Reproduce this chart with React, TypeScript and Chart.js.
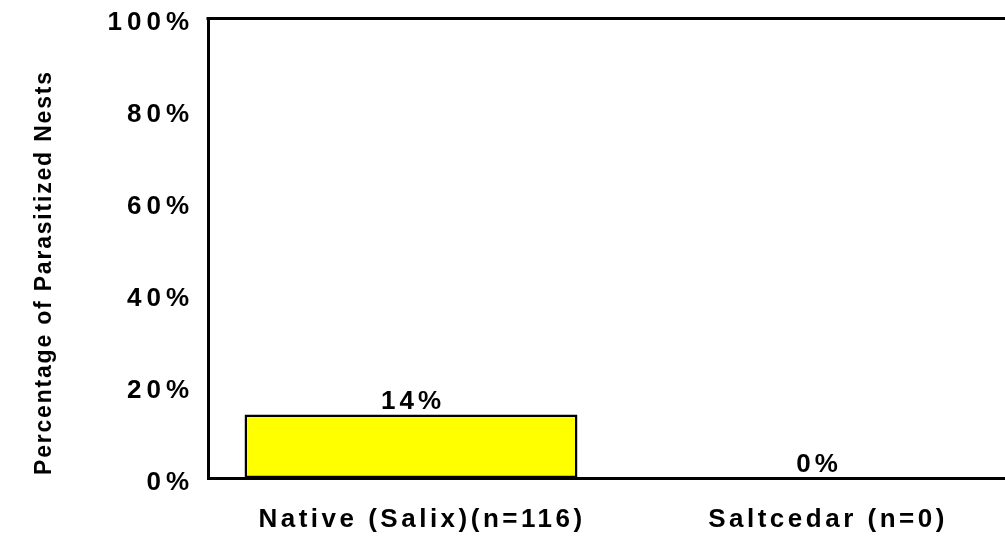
import React, { useEffect, useRef } from "react";
import { Chart, registerables } from "chart.js";

Chart.register(...registerables);

const categories = ["Native (Salix)(n=116)", "Saltcedar (n=0)"];
const parasitizedPct = [13.79, 0];
const yTicks = [0, 20, 40, 60, 80, 100];
const yTitle = "Percentage of Parasitized Nests";

const FONT = "'Liberation Sans', Arial, sans-serif";

const spacingPlugin = {
  id: "spacing",
  beforeDraw(chart: any) {
    const ctx = chart.ctx;
    const patch = (scale: any, labelSp: string, titleSp: string, titleShiftY: number) => {
      if (!scale || scale.__patched) return;
      scale.__patched = true;
      const dl = scale.drawLabels.bind(scale);
      scale.drawLabels = (area: any) => {
        const prev = ctx.letterSpacing;
        ctx.letterSpacing = labelSp;
        dl(area);
        ctx.letterSpacing = prev || "0px";
      };
      const dt = scale.drawTitle.bind(scale);
      scale.drawTitle = () => {
        ctx.save();
        ctx.letterSpacing = titleSp;
        ctx.translate(0, titleShiftY);
        dt();
        ctx.restore();
      };
    };
    patch(chart.scales.x, "3.5px", "0px", 0);
    patch(chart.scales.y, "5px", "1.8px", -3);
  },
};

const valueLabelPlugin = {
  id: "valueLabels",
  afterDatasetsDraw(chart: any) {
    const ctx = chart.ctx;
    const meta = chart.getDatasetMeta(0);
    ctx.save();
    ctx.letterSpacing = "4px";
    ctx.font = `bold 26px ${FONT}`;
    ctx.fillStyle = "#000";
    ctx.textAlign = "center";
    ctx.textBaseline = "alphabetic";
    meta.data.forEach((el: any, i: number) => {
      const v = chart.data.datasets[0].data[i] as number;
      ctx.fillText(`${Math.round(v)}%`, el.x + 2, el.y - 6);
    });
    ctx.restore();
  },
};

const topBorderPlugin = {
  id: "topBorder",
  afterDraw(chart: any) {
    const { ctx, chartArea } = chart;
    ctx.save();
    ctx.strokeStyle = "#000";
    ctx.lineWidth = 3;
    ctx.beginPath();
    ctx.moveTo(chartArea.left - 1.5, chartArea.top + 0.5);
    ctx.lineTo(chart.width, chartArea.top + 0.5);
    ctx.stroke();
    ctx.restore();
  },
};

export default function App() {
  const ref = useRef<HTMLCanvasElement>(null);

  useEffect(() => {
    if (!ref.current) return;
    const chart = new Chart(ref.current, {
      type: "bar",
      data: {
        labels: categories,
        datasets: [
          {
            data: parasitizedPct,
            backgroundColor: "#FFFF00",
            borderColor: "#000",
            borderWidth: 2.5,
            borderSkipped: false,
            barPercentage: 0.82,
            categoryPercentage: 1,
          },
        ],
      },
      options: {
        responsive: false,
        animation: false,
        devicePixelRatio: 1,
        layout: { padding: { top: 18, left: 31, right: 5, bottom: 0 } },
        plugins: {
          legend: { display: false },
          tooltip: { enabled: false },
          title: { display: false },
        },
        scales: {
          x: {
            grid: { display: false, drawTicks: false },
            border: { display: true, color: "#000", width: 3 },
            ticks: {
              color: "#000",
              font: { family: FONT, size: 26, weight: "bold" },
              padding: 26,
              labelOffset: 11,
              maxRotation: 0,
              z: 1,
            },
            afterFit: (s: any) => {
              s.height = 62;
              s.paddingLeft = 0;
              s.paddingRight = 0;
            },
          },
          y: {
            min: 0,
            max: 100,
            afterBuildTicks: (s: any) => {
              s.ticks = yTicks.map((v) => ({ value: v }));
            },
            grid: { display: false, drawTicks: false },
            border: { display: true, color: "#000", width: 3 },
            ticks: {
              color: "#000",
              font: { family: FONT, size: 26, weight: "bold" },
              padding: 14,
              labelOffset: 5,
              callback: (v: any) => `${v}%`,
              z: 1,
            },
            title: {
              display: true,
              text: yTitle,
              color: "#000",
              align: "start",
              padding: 0,
              font: { family: FONT, size: 23, weight: "bold" },
            },
            afterFit: (s: any) => {
              s.width = 177;
              s.paddingTop = 0;
              s.paddingBottom = 0;
            },
          },
        },
      },
      plugins: [spacingPlugin, valueLabelPlugin, topBorderPlugin],
    } as any);
    return () => chart.destroy();
  }, []);

  return (
    <div
      style={{
        position: "fixed",
        left: 0,
        top: 0,
        width: 1005,
        height: 540,
        overflow: "hidden",
        background: "#fff",
      }}
    >
      <canvas
        ref={ref}
        width={1025}
        height={540}
        style={{ position: "absolute", left: 0, top: 0, width: 1025, height: 540 }}
      />
    </div>
  );
}
